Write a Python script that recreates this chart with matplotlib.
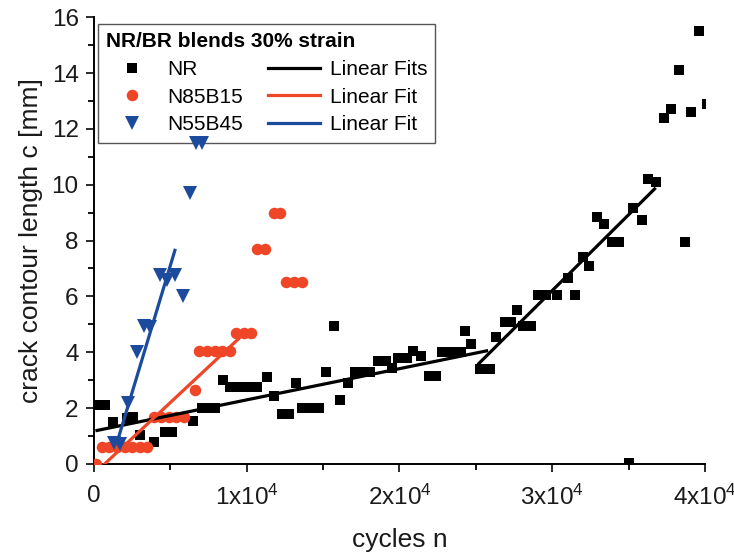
import matplotlib
matplotlib.use("Agg")
import matplotlib.pyplot as plt
from matplotlib.ticker import MultipleLocator, FuncFormatter
from matplotlib.lines import Line2D

plt.rcParams['font.family'] = ['Liberation Sans', 'DejaVu Sans']
plt.rcParams['mathtext.default'] = 'regular'

# NR (black squares)
nr_x = [260, 720, 1250, 2150, 2550, 3000, 3900, 4650, 5100, 6500, 7100, 7600, 7900,
        8450, 8900, 9400, 9800, 10300, 10700, 11300, 11800, 12300, 12800, 13200, 13600,
        14200, 14700, 15200, 15700, 16100, 16600, 17100, 17600, 18100, 18600, 19100,
        19500, 19900, 20500, 20900, 21400, 21900, 22400, 22800, 23400, 24000, 24300,
        24700, 25300, 25900, 26300, 26900, 27300, 27700, 28100, 28600, 29100, 29600,
        30300, 31000, 31500, 32000, 32400, 32900, 33400, 33900, 34400, 35000, 35300,
        35900, 36300, 36800, 37300, 37800, 38300, 38700, 39100, 39600, 40100]
nr_y = [2.1, 2.1, 1.5, 1.65, 1.7, 1.05, 0.8, 1.15, 1.15, 1.55, 2.0, 2.0, 2.0,
        3.0, 2.75, 2.75, 2.75, 2.75, 2.75, 3.1, 2.45, 1.8, 1.8, 2.9, 2.0,
        2.0, 2.0, 3.3, 4.95, 2.3, 2.9, 3.3, 3.3, 3.3, 3.7, 3.7,
        3.45, 3.8, 3.8, 4.05, 3.85, 3.15, 3.15, 4.0, 4.0, 4.0, 4.75,
        4.3, 3.4, 3.4, 4.55, 5.1, 5.1, 5.5, 4.95, 4.95, 6.05, 6.05,
        6.05, 6.65, 6.05, 7.4, 7.1, 8.85, 8.6, 7.95, 7.95, 0.05, 9.15,
        8.75, 10.2, 10.1, 12.4, 12.7, 14.1, 7.95, 12.6, 15.5, 12.9]

# N85B15 (red circles)
n85_x = [150, 500, 1000, 1500, 2000, 2500, 3000, 3500, 3900, 4400, 4900, 5400, 5900,
         6600, 6900, 7400, 7900, 8400, 8900, 9300, 9800, 10300, 10700, 11200, 11800,
         12200, 12600, 13100, 13600]
n85_y = [0.0, 0.6, 0.6, 0.6, 0.6, 0.6, 0.6, 0.6, 1.7, 1.7, 1.7, 1.7, 1.7,
         2.65, 4.05, 4.05, 4.05, 4.05, 4.05, 4.7, 4.7, 4.7, 7.7, 7.7, 9.0,
         9.0, 6.5, 6.5, 6.5]

# N55B45 (blue triangles)
n55_x = [1300, 1700, 2200, 2800, 3300, 3700, 4300, 4800, 5300, 5800, 6300, 6700, 7100]
n55_y = [0.75, 0.7, 2.2, 4.0, 4.95, 4.9, 6.75, 6.6, 6.75, 6.0, 9.7, 11.5, 11.5]

# linear fits (end points)
fit_nr1_x, fit_nr1_y = [200, 25700], [1.2, 4.05]
fit_nr2_x, fit_nr2_y = [25200, 36700], [3.6, 9.85]
fit_n85_x, fit_n85_y = [600, 9500], [-0.05, 4.5]
fit_n55_x, fit_n55_y = [1500, 5300], [0.75, 7.65]

red = '#ee4627'
blue = '#1c4b9e'

fig = plt.figure(figsize=(7.34, 5.54), dpi=100)
ax = fig.add_axes([0.128, 0.1625, 0.8325, 0.8065])

ax.plot(nr_x, nr_y, 's', color='black', ms=7.5, mew=0, zorder=3)
ax.plot(n85_x, n85_y, 'o', color=red, ms=8.3, mew=0, zorder=3)
# triangles drawn above the legend so the top pair stays visible at its edge
ax.plot(n55_x, n55_y, 'v', color=blue, ms=9.5, mew=0, zorder=6)

ax.plot(fit_nr1_x, fit_nr1_y, '-', color='black', lw=2.3, zorder=4)
ax.plot(fit_nr2_x, fit_nr2_y, '-', color='black', lw=2.3, zorder=4)
ax.plot(fit_n85_x, fit_n85_y, '-', color=red, lw=2.3, zorder=4)
ax.plot(fit_n55_x, fit_n55_y, '-', color=blue, lw=2.3, zorder=4)

ax.set_xlim(0, 40000)
ax.set_ylim(0, 16)
ax.spines['top'].set_visible(False)
ax.spines['right'].set_visible(False)
for s in ['left', 'bottom']:
    ax.spines[s].set_linewidth(1.4)

ax.xaxis.set_major_locator(MultipleLocator(10000))
ax.xaxis.set_minor_locator(MultipleLocator(5000))
ax.yaxis.set_major_locator(MultipleLocator(2))
ax.yaxis.set_minor_locator(MultipleLocator(1))

def xfmt(v, pos):
    k = int(round(v / 10000))
    return '0' if k == 0 else '%dx10$^{4}$' % k

ax.xaxis.set_major_formatter(FuncFormatter(xfmt))
ax.tick_params(which='major', direction='out', length=6, width=1.3, labelsize=17.5, colors='#1a1a1a')
ax.tick_params(which='minor', direction='out', length=4, width=1.3)
ax.tick_params(axis='x', pad=9)
ax.tick_params(axis='y', pad=5)

ax.set_xlabel('cycles n', fontsize=19, color='#1a1a1a', labelpad=13)
ax.set_ylabel('crack contour length c [mm]', fontsize=19, color='#1a1a1a', labelpad=6)

handles = [
    Line2D([], [], ls='none', marker='s', color='black', ms=7.5, mew=0),
    Line2D([], [], ls='none', marker='o', color=red, ms=8.3, mew=0),
    Line2D([], [], ls='none', marker='v', color=blue, ms=9.5, mew=0),
    Line2D([], [], color='black', lw=2.3),
    Line2D([], [], color=red, lw=2.3),
    Line2D([], [], color=blue, lw=2.3),
]
labels = ['NR', 'N85B15', 'N55B45', 'Linear Fits', 'Linear Fit', 'Linear Fit']
leg = ax.legend(handles, labels, ncol=2, loc='upper left',
                bbox_to_anchor=(0.006, 0.985), borderaxespad=0,
                title='NR/BR blends 30% strain', alignment='left',
                title_fontproperties={'weight': 'bold', 'size': 15},
                fontsize=15, handlelength=2.5, handletextpad=0.45,
                columnspacing=1.2, labelspacing=0.42, borderpad=0.4,
                fancybox=False, framealpha=1, edgecolor='#555555')
leg.get_frame().set_linewidth(1.0)
leg.set_zorder(5)

fig.savefig('out.png', dpi=100)
